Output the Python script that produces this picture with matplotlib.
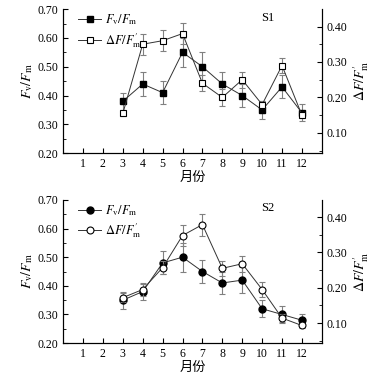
import numpy as np
import matplotlib
matplotlib.use('Agg')
import matplotlib.pyplot as plt

plt.rcParams['font.family'] = ['Liberation Serif', 'Noto Sans CJK SC']
plt.rcParams['mathtext.fontset'] = 'stix'

months = np.arange(3, 13)
xticks = np.arange(1, 13)

# S1
s1_fvfm = [0.38, 0.44, 0.41, 0.55, 0.50, 0.44, 0.40, 0.35, 0.43, 0.34]
s1_fvfm_err = [0.03, 0.04, 0.04, 0.05, 0.05, 0.04, 0.04, 0.03, 0.04, 0.03]
s1_dff = [0.155, 0.35, 0.36, 0.38, 0.24, 0.20, 0.25, 0.18, 0.29, 0.15]
s1_dff_err = [0.007, 0.03, 0.03, 0.03, 0.023, 0.023, 0.022, 0.01, 0.02, 0.008]

# S2
s2_fvfm = [0.35, 0.38, 0.48, 0.50, 0.45, 0.41, 0.42, 0.32, 0.30, 0.28]
s2_fvfm_err = [0.03, 0.03, 0.04, 0.05, 0.04, 0.04, 0.045, 0.03, 0.03, 0.02]
s2_dff = [0.172, 0.195, 0.257, 0.348, 0.379, 0.255, 0.268, 0.195, 0.114, 0.093]
s2_dff_err = [0.013, 0.017, 0.018, 0.031, 0.031, 0.022, 0.022, 0.02, 0.012, 0.008]

lab1 = r'$F_{\mathrm{v}}/F_{\mathrm{m}}$'
lab2 = r"$\Delta F/F_{\mathrm{m}}^{\prime}$"
fnt = 8.5
lc = '#333333'
ec = '#808080'

fig = plt.figure(figsize=(3.92, 3.80), dpi=100)

def panel(rect, y1, e1, y2, e2, mk, ms, tag):
    ax1 = fig.add_axes(rect)
    ax1.errorbar(months, y1, yerr=e1, fmt='none', ecolor=ec, elinewidth=0.8,
                 capsize=2, capthick=0.8)
    l1 = ax1.plot(months, y1, color=lc, lw=0.7, marker=mk, ms=ms,
                  mfc='k', mec='k', label=lab1)
    ax1.set_xlim(0, 13)
    ax1.set_ylim(0.2, 0.7)
    ax1.set_xticks(xticks)
    ax1.set_yticks(np.arange(0.2, 0.71, 0.1))
    ax1.set_yticks(np.arange(0.25, 0.7, 0.05), minor=True)
    ax1.set_yticklabels(['%.2f' % v for v in np.arange(0.2, 0.71, 0.1)])
    ax1.tick_params(axis='both', which='both', direction='in', labelsize=fnt)
    ax1.tick_params(axis='both', which='major', length=3.5)
    ax1.tick_params(axis='y', which='minor', length=2)
    ax1.spines['top'].set_visible(False)
    ax1.set_ylabel(lab1, fontsize=fnt + 1.5, labelpad=2)
    ax1.set_xlabel('月份', fontsize=fnt + 1, family=['Noto Sans CJK SC'],
                   labelpad=1)

    ax2 = ax1.twinx()
    ax2.errorbar(months, y2, yerr=e2, fmt='none', ecolor=ec, elinewidth=0.8,
                 capsize=2, capthick=0.8)
    l2 = ax2.plot(months, y2, color=lc, lw=0.7, marker=mk, ms=ms,
                  mfc='white', mec='k', mew=0.8, label=lab2)
    ax2.set_ylim(0.043, 0.449)
    ax2.set_yticks([0.1, 0.2, 0.3, 0.4])
    ax2.set_yticks(np.arange(0.05, 0.449, 0.05), minor=True)
    ax2.set_yticklabels(['0.10', '0.20', '0.30', '0.40'])
    ax2.tick_params(axis='y', which='both', direction='in', labelsize=fnt)
    ax2.tick_params(axis='y', which='major', length=3.5)
    ax2.tick_params(axis='y', which='minor', length=2)
    ax2.spines['top'].set_visible(False)
    ax2.set_ylabel(lab2, fontsize=fnt + 1.5, labelpad=3)

    lns = l1 + l2
    ax1.legend(lns, [l.get_label() for l in lns], loc='upper left',
               frameon=False, fontsize=fnt + 0.5, handlelength=1.8,
               handletextpad=0.3, borderaxespad=0.2, labelspacing=0.3,
               bbox_to_anchor=(0.03, 1.03))
    ax1.text(0.79, 0.94, tag, transform=ax1.transAxes, fontsize=fnt + 0.5,
             ha='center', va='center')
    return ax1, ax2

panel([0.161, 0.597, 0.660, 0.379], s1_fvfm, s1_fvfm_err, s1_dff, s1_dff_err,
      's', 4.5, 'S1')
panel([0.161, 0.097, 0.660, 0.377], s2_fvfm, s2_fvfm_err, s2_dff, s2_dff_err,
      'o', 5, 'S2')

plt.savefig('out.png', dpi=100)
